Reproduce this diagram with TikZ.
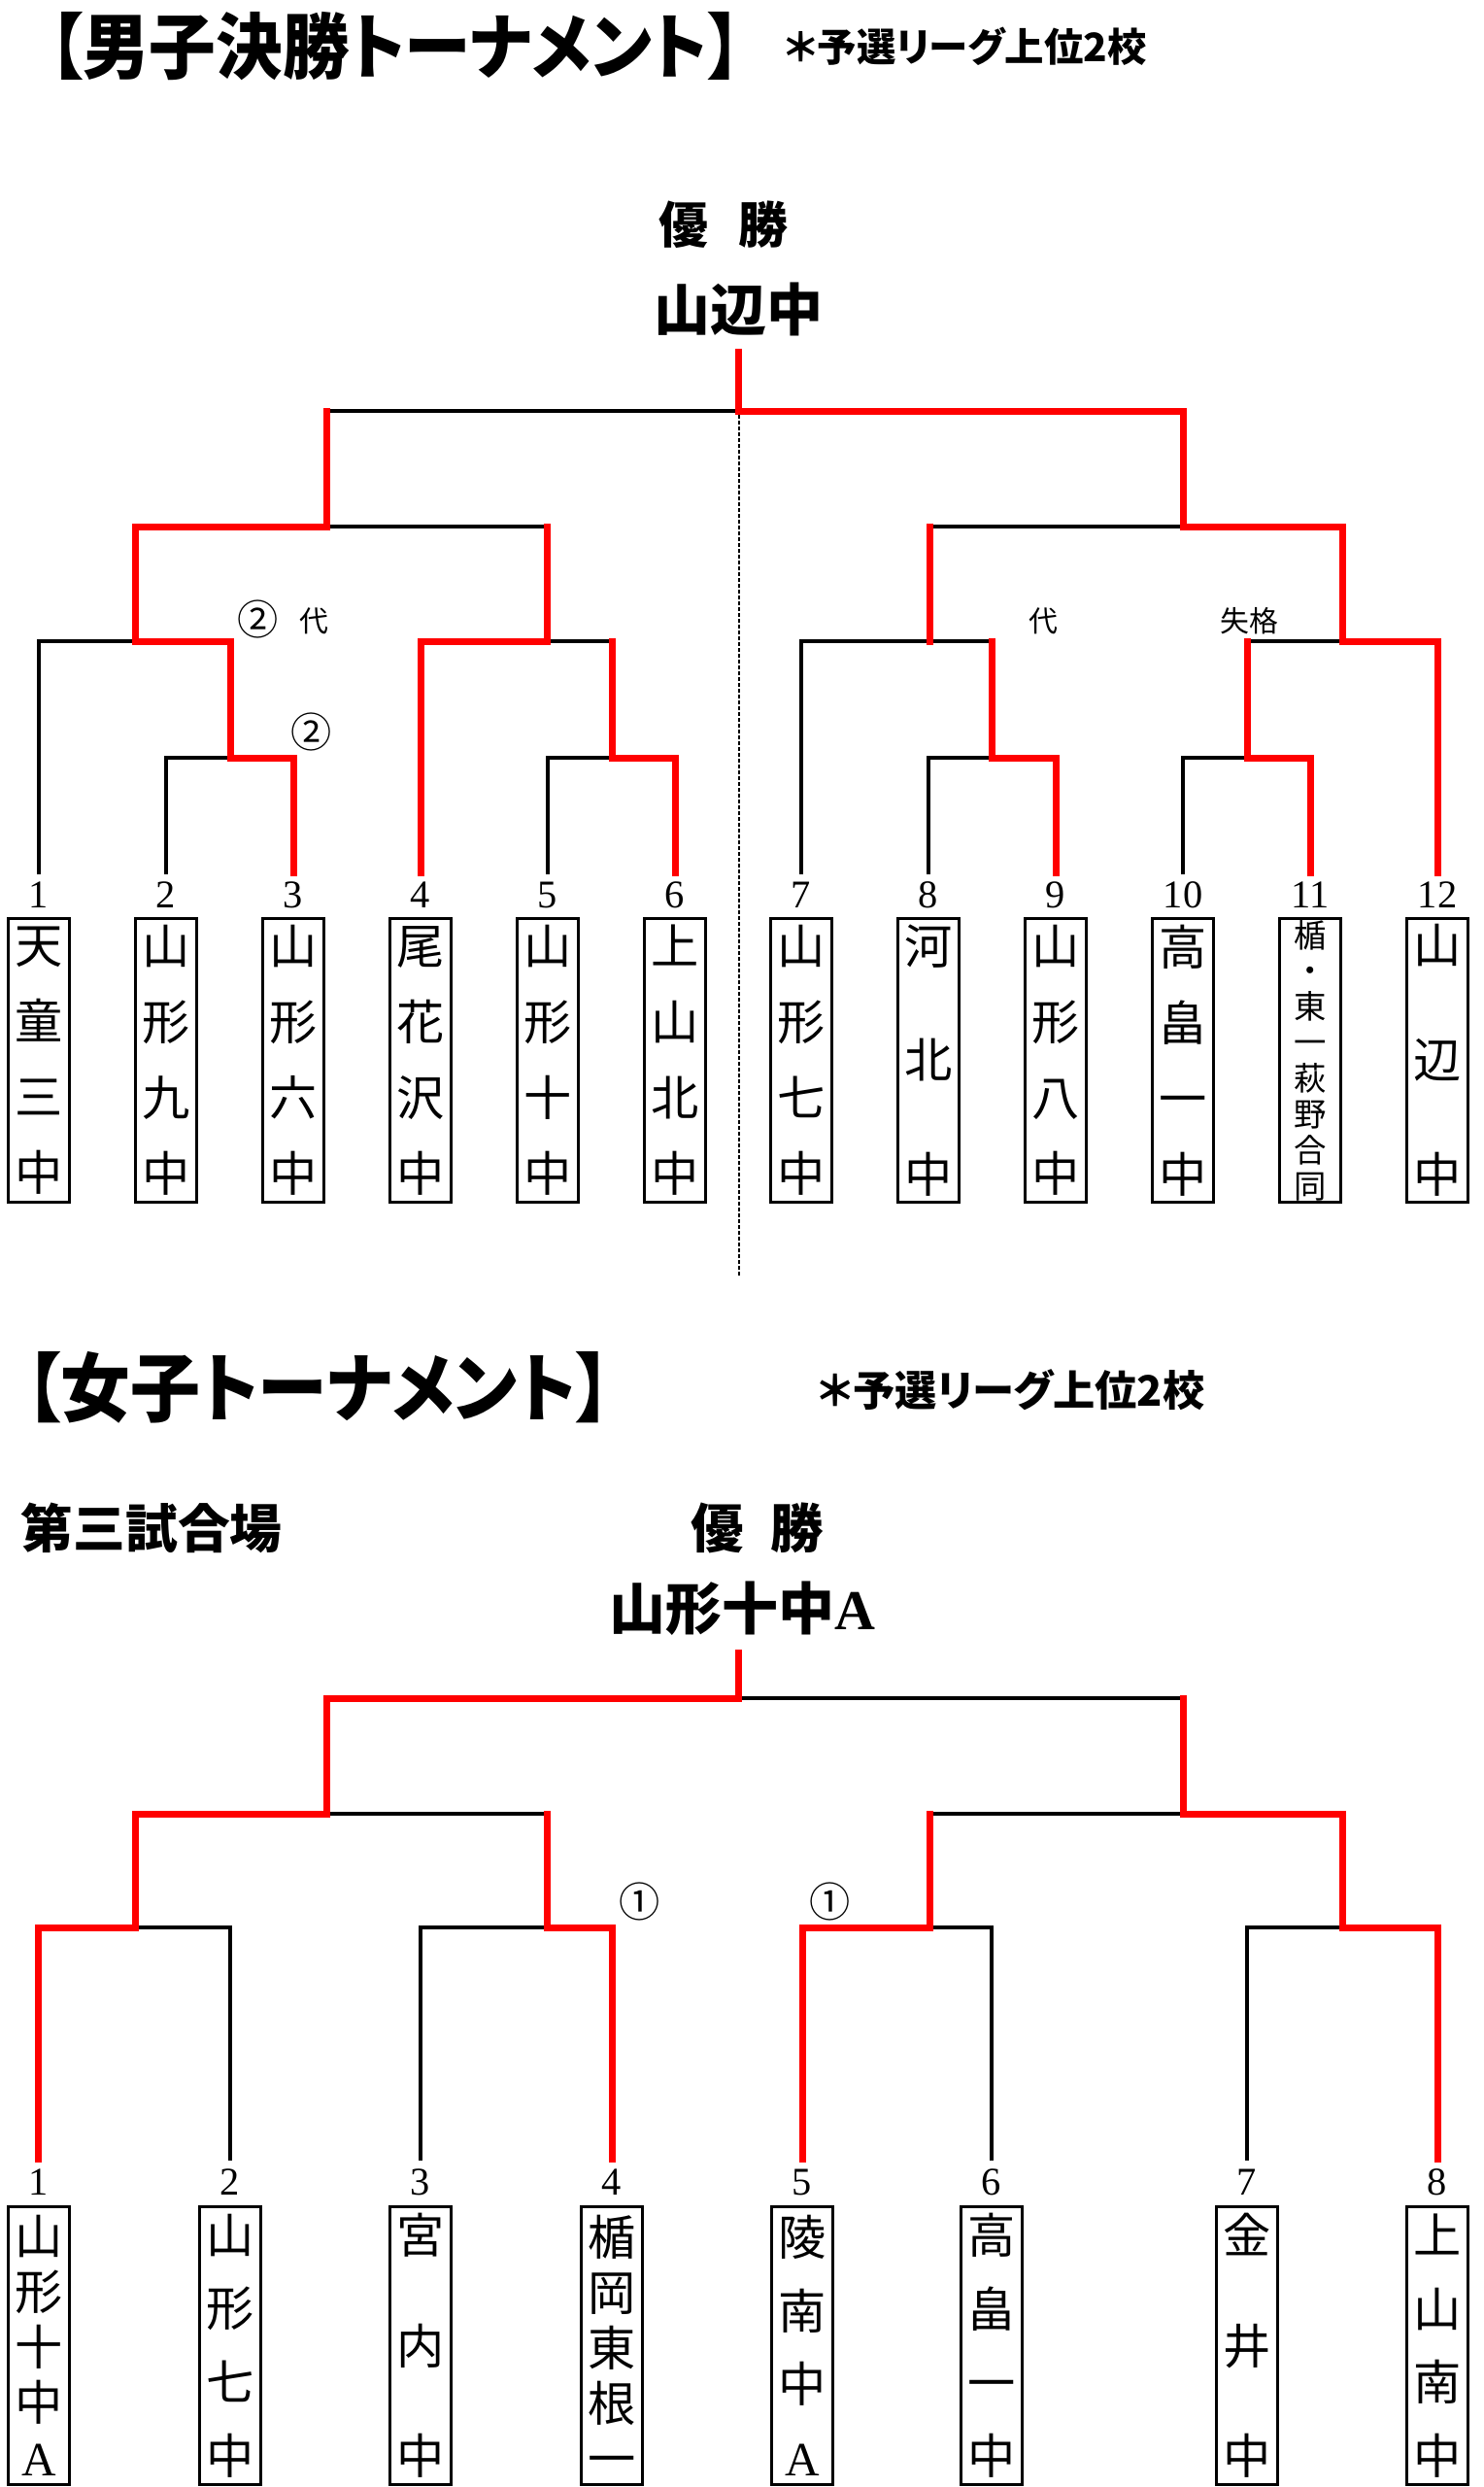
\documentclass[tikz,border=0pt]{standalone}
\usepackage{fontspec}
\setmainfont{Liberation Serif}
\newfontfamily\jp{Noto Sans CJK JP}[RawFeature=+palt]
\newfontfamily\jpt{Noto Sans CJK JP}[RawFeature=+palt, FakeStretch=0.93]
\newfontfamily\jpn{Noto Sans CJK JP}
\tikzset{
  bline/.style={line width=0.4mm, black, line cap=rect},
  rline/.style={line width=0.7mm, red, line cap=rect},
  dline/.style={line width=0.2mm, dash pattern=on 0.35mm off 0.25mm},
  namebox/.style={draw, line width=0.35mm, minimum width=0.63cm, inner sep=0pt, align=center},
  mbox/.style={namebox, minimum height=2.92cm},
  fbox/.style={namebox, minimum height=2.86cm},
  numlbl/.style={inner sep=0pt, font=\fontsize{11.5}{12}\selectfont},
  note/.style={inner sep=0pt, font=\jpn\fontsize{8.5}{9}\selectfont},
  circnote/.style={inner sep=0pt, font=\jpn\fontsize{12}{12}\selectfont},
}
\begin{document}
\begin{tikzpicture}
\useasboundingbox (0,0) rectangle (15.28,-25.60);

% Men's final bracket
\node[anchor=west, inner sep=0pt, font=\jpt\bfseries\fontsize{21}{21}\selectfont] (mtitle) at (0.50,-0.48) {【男子決勝トーナメント】};
\node[anchor=west, inner sep=0pt, font=\jp\bfseries\fontsize{11.5}{12}\selectfont] (mnote) at (8.08,-0.48) {＊予選リーグ上位2校};
\node[inner sep=0pt, font=\jp\bfseries\fontsize{14.5}{15}\selectfont] (mwinlbl) at (7.45,-2.31) {優\hspace{0.6em}勝};
\node[inner sep=0pt, font=\jp\bfseries\fontsize{16.5}{17}\selectfont] (mwin) at (7.60,-3.18) {山辺中};

\coordinate (mt1) at (0.40,-8.98);
\coordinate (mt2) at (1.71,-8.98);
\coordinate (mt3) at (3.02,-8.98);
\coordinate (mt4) at (4.33,-8.98);
\coordinate (mt5) at (5.64,-8.98);
\coordinate (mt6) at (6.95,-8.98);
\coordinate (mt7) at (8.25,-8.98);
\coordinate (mt8) at (9.56,-8.98);
\coordinate (mt9) at (10.87,-8.98);
\coordinate (mt10) at (12.18,-8.98);
\coordinate (mt11) at (13.49,-8.98);
\coordinate (mt12) at (14.80,-8.98);
\coordinate (m23) at (2.37,-7.80);
\coordinate (m56) at (6.30,-7.80);
\coordinate (m89) at (10.21,-7.80);
\coordinate (m1011) at (12.84,-7.80);
\coordinate (m13) at (1.39,-6.60);
\coordinate (m46) at (5.63,-6.60);
\coordinate (m79) at (9.57,-6.60);
\coordinate (m1012) at (13.82,-6.60);
\coordinate (m16) at (3.36,-5.42);
\coordinate (m712) at (12.18,-5.42);
\coordinate (mfin) at (7.60,-4.23);
\coordinate (mtop) at (7.60,-3.62);
\coordinate (mcut1) at (7.61,-4.27);
\coordinate (mcut2) at (7.61,-13.13);

\draw[dline] (mcut1) -- (mcut2);

\draw[bline] (mt2) |- (m23);
\draw[bline] (mt1) |- (m13);
\draw[bline] (mt5) |- (m56);
\draw[bline] (m56 |- m46) -- (m46);
\draw[bline] (m46 |- m16) -- (m16);
\draw[bline] (mt8) |- (m89);
\draw[bline] (mt7) |- (m79);
\draw[bline] (m89 |- m79) -- (m79);
\draw[bline] (mt10) |- (m1011);
\draw[bline] (m1011 |- m1012) -- (m1012);
\draw[bline] (m79 |- m712) -- (m712);
\draw[bline] (m16 |- mfin) -- (mfin);

\draw[rline] (mt3) |- (m23) |- (m13) |- (m16) -- (m16 |- mfin);
\draw[rline] (mt4) |- (m46);
\draw[rline] (mt6) |- (m56) -- (m56 |- m46);
\draw[rline] (m46) -- (m46 |- m16);
\draw[rline] (mt9) |- (m89) -- (m89 |- m79);
\draw[rline] (m79) -- (m79 |- m712);
\draw[rline] (mt11) |- (m1011) -- (m1011 |- m1012);
\draw[rline] (mt12) |- (m1012) |- (m712) |- (mfin) -- (mtop);

\node[circnote] (mc1) at (2.66,-6.37) {②};
\node[note] (mk1) at (3.23,-6.39) {代};
\node[circnote] (mc2) at (3.21,-7.53) {②};
\node[note] (mk2) at (10.74,-6.39) {代};
\node[note] (mk3) at (12.86,-6.39) {失格};

\node[numlbl] (mn1) at (0.40,-9.21) {1};
\node[numlbl] (mn2) at (1.71,-9.21) {2};
\node[numlbl] (mn3) at (3.02,-9.21) {3};
\node[numlbl] (mn4) at (4.33,-9.21) {4};
\node[numlbl] (mn5) at (5.64,-9.21) {5};
\node[numlbl] (mn6) at (6.95,-9.21) {6};
\node[numlbl] (mn7) at (8.25,-9.21) {7};
\node[numlbl] (mn8) at (9.56,-9.21) {8};
\node[numlbl] (mn9) at (10.87,-9.21) {9};
\node[numlbl] (mn10) at (12.18,-9.21) {10};
\node[numlbl] (mn11) at (13.49,-9.21) {11};
\node[numlbl] (mn12) at (14.80,-9.21) {12};

\node[mbox, font=\jpn\fontsize{14}{22.2}\selectfont] (mb1) at (0.40,-10.915) {天\\童\\三\\中};
\node[mbox, font=\jpn\fontsize{14}{22.2}\selectfont] (mb2) at (1.71,-10.915) {山\\形\\九\\中};
\node[mbox, font=\jpn\fontsize{14}{22.2}\selectfont] (mb3) at (3.02,-10.915) {山\\形\\六\\中};
\node[mbox, font=\jpn\fontsize{14}{22.2}\selectfont] (mb4) at (4.33,-10.915) {尾\\花\\沢\\中};
\node[mbox, font=\jpn\fontsize{14}{22.2}\selectfont] (mb5) at (5.64,-10.915) {山\\形\\十\\中};
\node[mbox, font=\jpn\fontsize{14}{22.2}\selectfont] (mb6) at (6.95,-10.915) {上\\山\\北\\中};
\node[mbox, font=\jpn\fontsize{14}{22.2}\selectfont] (mb7) at (8.25,-10.915) {山\\形\\七\\中};
\node[mbox, font=\jpn\fontsize{14}{33.5}\selectfont] (mb8) at (9.56,-10.915) {河\\北\\中};
\node[mbox, font=\jpn\fontsize{14}{22.2}\selectfont] (mb9) at (10.87,-10.915) {山\\形\\八\\中};
\node[mbox, font=\jpn\fontsize{14}{22.2}\selectfont] (mb10) at (12.18,-10.915) {高\\畠\\一\\中};
\node[mbox, font=\jpn\fontsize{9.5}{10.5}\selectfont] (mb11) at (13.49,-10.915) {楯\\・\\東\\一\\萩\\野\\合\\同};
\node[mbox, font=\jpn\fontsize{14}{33.5}\selectfont] (mb12) at (14.80,-10.915) {山\\辺\\中};

% Women's bracket
\node[anchor=west, inner sep=0pt, font=\jpt\bfseries\fontsize{22}{22}\selectfont] (ftitle) at (0.26,-14.28) {【女子トーナメント】};
\node[anchor=west, inner sep=0pt, font=\jp\bfseries\fontsize{12.3}{13}\selectfont] (fnote) at (8.42,-14.31) {＊予選リーグ上位2校};
\node[anchor=west, inner sep=0pt, font=\jp\bfseries\fontsize{15.3}{16}\selectfont] (fcourt) at (0.21,-15.73) {第三試合場};
\node[inner sep=0pt, font=\jp\bfseries\fontsize{15.5}{16}\selectfont] (fwinlbl) at (7.80,-15.73) {優\hspace{0.5em}勝};
\node[inner sep=0pt, font=\jp\bfseries\fontsize{16.5}{17}\selectfont] (fwin) at (7.64,-16.56) {山形十中{\rmfamily A}};

\coordinate (ft1) at (0.40,-22.22);
\coordinate (ft2) at (2.37,-22.22);
\coordinate (ft3) at (4.33,-22.22);
\coordinate (ft4) at (6.30,-22.22);
\coordinate (ft5) at (8.26,-22.22);
\coordinate (ft6) at (10.21,-22.22);
\coordinate (ft7) at (12.84,-22.22);
\coordinate (ft8) at (14.80,-22.22);
\coordinate (f12) at (1.39,-19.84);
\coordinate (f34) at (5.63,-19.84);
\coordinate (f56) at (9.57,-19.84);
\coordinate (f78) at (13.82,-19.84);
\coordinate (f14) at (3.36,-18.67);
\coordinate (f58) at (12.18,-18.67);
\coordinate (ffin) at (7.60,-17.48);
\coordinate (ftop) at (7.60,-17.01);

\draw[bline] (ft2) |- (f12);
\draw[bline] (ft3) |- (f34);
\draw[bline] (ft6) |- (f56);
\draw[bline] (ft7) |- (f78);
\draw[bline] (f34 |- f14) -- (f14);
\draw[bline] (f56 |- f58) -- (f58);
\draw[bline] (f58 |- ffin) -- (ffin);

\draw[rline] (ft1) |- (f12) |- (f14) |- (ffin) -- (ftop);
\draw[rline] (ft4) |- (f34) -- (f34 |- f14);
\draw[rline] (ft5) |- (f56) -- (f56 |- f58);
\draw[rline] (ft8) |- (f78) |- (f58) -- (f58 |- ffin);

\node[circnote] (fc1) at (6.59,-19.57) {①};
\node[circnote] (fc2) at (8.55,-19.57) {①};

\node[numlbl] (fn1) at (0.40,-22.46) {1};
\node[numlbl] (fn2) at (2.37,-22.46) {2};
\node[numlbl] (fn3) at (4.33,-22.46) {3};
\node[numlbl] (fn4) at (6.30,-22.46) {4};
\node[numlbl] (fn5) at (8.26,-22.46) {5};
\node[numlbl] (fn6) at (10.21,-22.46) {6};
\node[numlbl] (fn7) at (12.84,-22.46) {7};
\node[numlbl] (fn8) at (14.80,-22.46) {8};

\node[fbox, font=\jpn\fontsize{14}{16.2}\selectfont] (fb1) at (0.40,-24.145) {山\\形\\十\\中\\{\rmfamily A}};
\node[fbox, font=\jpn\fontsize{14}{21.5}\selectfont] (fb2) at (2.37,-24.145) {山\\形\\七\\中};
\node[fbox, font=\jpn\fontsize{14}{32.3}\selectfont] (fb3) at (4.33,-24.145) {宮\\内\\中};
\node[fbox, font=\jpn\fontsize{14}{16.2}\selectfont] (fb4) at (6.30,-24.145) {楯\\岡\\東\\根\\一};
\node[fbox, font=\jpn\fontsize{14}{21.5}\selectfont] (fb5) at (8.26,-24.145) {陵\\南\\中\\{\rmfamily A}};
\node[fbox, font=\jpn\fontsize{14}{21.5}\selectfont] (fb6) at (10.21,-24.145) {高\\畠\\一\\中};
\node[fbox, font=\jpn\fontsize{14}{32.3}\selectfont] (fb7) at (12.84,-24.145) {金\\井\\中};
\node[fbox, font=\jpn\fontsize{14}{21.5}\selectfont] (fb8) at (14.80,-24.145) {上\\山\\南\\中};
\end{tikzpicture}
\end{document}
